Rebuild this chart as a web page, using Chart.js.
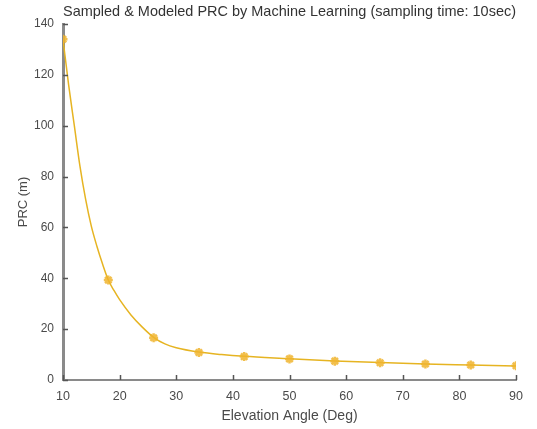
<!DOCTYPE html>
<html>
<head>
<meta charset="utf-8">
<script src="https://cdn.jsdelivr.net/npm/chart.js@4"></script>
<style>
  html, body { margin: 0; padding: 0; background: #fff; }
  #wrap { width: 537px; height: 429px; }
</style>
</head>
<body>
<div id="wrap"><canvas id="prcChart" width="537" height="429"></canvas></div>
<script>
// sampled points (markers)
const sampledAngles = [10, 18, 26, 34, 42, 50, 58, 66, 74, 82, 90];
const sampledPRC    = [134, 39.3, 16.6, 10.8, 9.2, 8.3, 7.4, 6.8, 6.3, 5.9, 5.6];

// modeled curve
const modeledAngles = [10, 11, 12, 13, 14, 15, 16, 17, 18, 19, 20, 22, 24, 26, 28, 30, 34, 38, 42, 50, 58, 66, 74, 82, 90];
const modeledPRC    = [134, 116, 100, 84, 71, 60.5, 52.5, 45.5, 39.3, 35.2, 31.6, 25.6, 20.8, 16.8, 14.2, 12.7, 11, 10, 9.3, 8.4, 7.5, 6.9, 6.3, 5.9, 5.5];

const xTicks = [10, 20, 30, 40, 50, 60, 70, 80, 90];
const yTicks = [0, 20, 40, 60, 80, 100, 120, 140];

const axisColor = '#8a8a8a';
const textColor = '#4a4a4a';
const lineColor = '#e6b422';
const markColor = 'rgba(240,180,45,0.85)';

const toXY = (xs, ys) => xs.map((x, i) => ({ x: x, y: ys[i] }));

// small ticks pointing into the plot, like the original
const innerTicks = {
  id: 'innerTicks',
  afterDraw(chart) {
    const { ctx, chartArea: a, scales: { x, y } } = chart;
    ctx.save();
    ctx.strokeStyle = '#555';
    ctx.lineWidth = 1.5;
    ctx.beginPath();
    xTicks.forEach(v => {
      const px = Math.round(x.getPixelForValue(v)) + 0.5;
      ctx.moveTo(px, a.bottom);
      ctx.lineTo(px, a.bottom - 5);
    });
    yTicks.forEach(v => {
      const py = Math.round(y.getPixelForValue(v)) + 0.5;
      ctx.moveTo(a.left, py);
      ctx.lineTo(a.left + 5, py);
    });
    ctx.stroke();
    ctx.restore();
  }
};

new Chart(document.getElementById('prcChart').getContext('2d'), {
  type: 'scatter',
  data: {
    datasets: [
      {
        label: 'Sampled',
        data: toXY(sampledAngles, sampledPRC),
        showLine: false,
        pointStyle: 'star',
        radius: 4.5,
        borderWidth: 2.5,
        borderColor: markColor,
        backgroundColor: markColor,
        order: 0
      },
      {
        label: 'Modeled',
        data: toXY(modeledAngles, modeledPRC),
        showLine: true,
        cubicInterpolationMode: 'monotone',
        borderColor: lineColor,
        borderWidth: 1.5,
        pointRadius: 0,
        order: 1
      }
    ]
  },
  options: {
    responsive: false,
    animation: false,
    layout: { padding: { left: 0, right: 21, top: 0, bottom: 0 } },
    plugins: {
      legend: { display: false },
      tooltip: { enabled: false },
      title: {
        display: true,
        fullSize: false,
        text: 'Sampled & Modeled PRC by Machine Learning (sampling time: 10sec)',
        color: '#333',
        font: { family: 'Liberation Sans', size: 14.6, weight: 'normal' },
        padding: { top: 3, bottom: 3.5 }
      }
    },
    scales: {
      x: {
        type: 'linear',
        min: 10,
        max: 90,
        afterBuildTicks: s => { s.ticks = xTicks.map(v => ({ value: v })); },
        afterFit: s => { s.height = 49; },
        grid: { drawOnChartArea: false, drawTicks: false },
        border: { display: true, color: axisColor, width: 2 },
        ticks: {
          color: textColor,
          padding: 9,
          maxRotation: 0,
          font: { family: 'Liberation Sans', size: 12.5 }
        },
        title: {
          display: true,
          text: 'Elevation Angle (Deg)',
          color: textColor,
          font: { family: 'Liberation Sans', size: 14 },
          padding: { top: 0, bottom: 4 }
        }
      },
      y: {
        type: 'linear',
        min: 0,
        max: 140,
        afterBuildTicks: s => { s.ticks = yTicks.map(v => ({ value: v })); },
        afterFit: s => { s.width = 63; },
        grid: { drawOnChartArea: false, drawTicks: false },
        border: { display: true, color: axisColor, width: 3 },
        ticks: {
          color: textColor,
          padding: 9,
          font: { family: 'Liberation Sans', size: 12 }
        },
        title: {
          display: true,
          text: 'PRC (m)',
          color: textColor,
          font: { family: 'Liberation Sans', size: 13 },
          padding: { top: 16, bottom: 0 }
        }
      }
    }
  },
  plugins: [innerTicks]
});
</script>
</body>
</html>
